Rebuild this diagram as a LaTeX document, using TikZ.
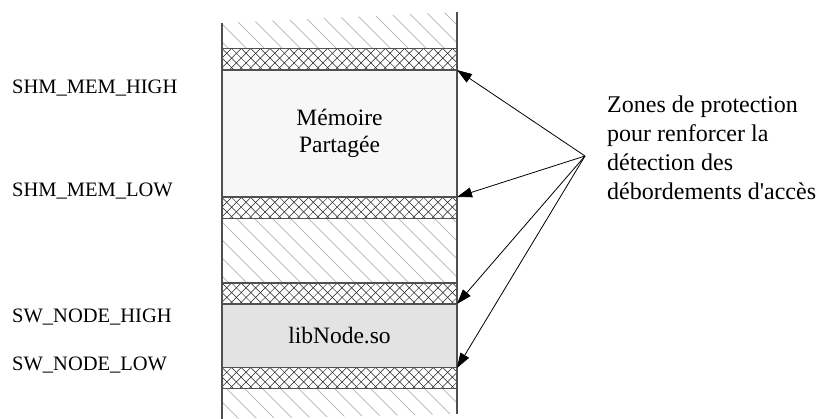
\documentclass[tikz,border=0pt]{standalone}
\usepackage{fontspec}
\setmainfont{Liberation Serif}
\usetikzlibrary{arrows.meta,calc}
\definecolor{edge}{HTML}{505050}
\definecolor{memfill}{HTML}{F7F7F7}
\definecolor{libfill}{HTML}{E3E3E3}
\definecolor{hatchc}{HTML}{BDBDBD}
\definecolor{xc}{HTML}{202020}
\tikzset{
  boxtext/.style={font=\fontsize{23.5}{27.5}\selectfont, align=center},
  region/.style={draw=edge, line width=1.1pt, minimum width=235pt, inner sep=0pt, outer sep=0pt, anchor=north west},
  crossband/.style={region, fill=white, minimum height=21pt,
    path picture={
      \foreach \k in {-4,...,28}{
        \draw[xc, line width=0.5pt] ($(path picture bounding box.north west)+(\k*9.6pt,0)$) -- ++(26pt,-26pt);
        \draw[xc, line width=0.5pt] ($(path picture bounding box.north west)+(\k*9.6pt,0)$) -- ++(-26pt,-26pt);
      }}},
  sidelabel/.style={font=\fontsize{20.5}{24}\selectfont, anchor=base west, inner sep=0pt},
  pointer/.style={-{Triangle[length=15pt,width=10pt]}, line width=0.8pt, black}
}
\begin{document}
\begin{tikzpicture}[x=1pt,y=-1pt]
\useasboundingbox (0,0) rectangle (821,419);
% hatched background of the column
\coordinate (tl) at (222,23);
\coordinate (tr) at (457,12);
\coordinate (br) at (457,414);
\coordinate (bl) at (222,419);
\begin{scope}
  \clip (tl) -- (tr) -- (br) -- (bl) -- cycle;
  \foreach \k in {-30,...,40}{
    \draw[hatchc, line width=0.9pt] (\k*18,0) -- ++(440,440);
  }
\end{scope}
% regions
\node[region, fill=memfill, minimum height=127pt, boxtext] (mem) at (222,70) {Mémoire\\Partagée};
\node[region, fill=libfill, minimum height=64pt, boxtext] (lib) at (222,304) {libNode.so};
\node[crossband] (b1) at (222,48.5) {};
\node[crossband] (b2) at (222,197.5) {};
\node[crossband] (b3) at (222,283) {};
\node[crossband] (b4) at (222,367.5) {};
\draw[edge, line width=1.3pt] (tl) -- (bl);
\draw[edge, line width=1.3pt] (tr) -- (br);
% side labels
\node[sidelabel] (l1) at (12,94) {SHM\_MEM\_HIGH};
\node[sidelabel] (l2) at (12,197) {SHM\_MEM\_LOW};
\node[sidelabel] (l3) at (12,323) {SW\_NODE\_HIGH};
\node[sidelabel] (l4) at (12,370) {SW\_NODE\_LOW};
% note
\node[font=\fontsize{24}{29}\selectfont, align=left, anchor=north west, inner sep=0pt] (note) at (607,96)
  {Zones de protection\\pour renforcer la\\détection des\\débordements d\textquotesingle accès};
\coordinate (src) at (585,156);
\draw[pointer] (src) -- (mem.north east);
\draw[pointer] (src) -- (mem.south east);
\draw[pointer] (src) -- (lib.north east);
\draw[pointer] (src) -- (lib.south east);
\end{tikzpicture}
\end{document}
